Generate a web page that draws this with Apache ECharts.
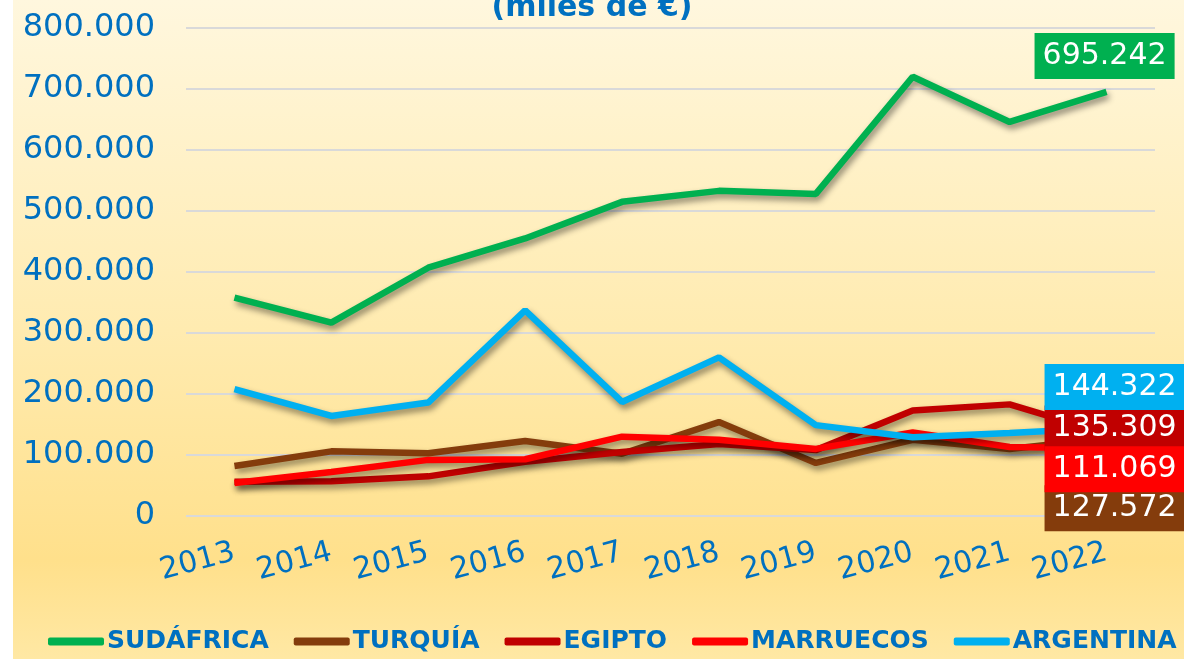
<!DOCTYPE html>
<html>
<head>
<meta charset="utf-8">
<script src="https://cdn.jsdelivr.net/npm/echarts@6/dist/echarts.min.js"></script>
<style>
  html, body { margin: 0; padding: 0; background: #fff; }
  #chart { width: 1184px; height: 659px; }
</style>
</head>
<body>
<div id="chart"></div>
<script>
// datos (miles de €)
const years = ['2013', '2014', '2015', '2016', '2017', '2018', '2019', '2020', '2021', '2022'];
const sudafrica = [358000, 317000, 407000, 455000, 515000, 533000, 528000, 720000, 646000, 695242];
const turquia   = [82000, 106000, 103000, 123000, 102000, 154000, 87000, 125000, 110000, 127572];
const egipto    = [56000, 57000, 65000, 89000, 105000, 118000, 108000, 173000, 183000, 135309];
const marruecos = [54000, 72000, 92000, 93000, 130000, 125000, 110000, 137000, 113000, 111069];
const argentina = [208000, 164000, 186000, 337000, 187000, 260000, 149000, 129000, 136000, 144322];
const yTicks = [0, 100000, 200000, 300000, 400000, 500000, 600000, 700000, 800000];

const blue = '#0070C0';
const font = 'DejaVu Sans';

function fmt(v) {
  return String(v).replace(/\B(?=(\d{3})+(?!\d))/g, '.');
}

function makeSeries(name, values, color, offset) {
  return {
    name: name,
    type: 'line',
    data: values,
    symbol: 'none',
    lineStyle: {
      color: color,
      width: 6.5,
      shadowColor: 'rgba(0,0,0,0.45)',
      shadowBlur: 6,
      shadowOffsetX: 2,
      shadowOffsetY: 4
    },
    itemStyle: { color: color },
    // etiqueta del último valor
    endLabel: {
      show: true,
      distance: 0,
      offset: offset,
      formatter: p => fmt(p.value),
      color: '#fff',
      fontFamily: font,
      fontSize: 30,
      lineHeight: 34,
      backgroundColor: color,
      padding: [6, 8]
    },
    emphasis: { disabled: true }
  };
}

const chart = echarts.init(document.getElementById('chart'));
chart.setOption({
  animation: false,
  graphic: [{
    type: 'rect',
    z: -10,
    shape: { x: 13, y: 0, width: 1171, height: 659 },
    style: {
      fill: new echarts.graphic.LinearGradient(0, 0, 0, 1, [
        { offset: 0, color: '#FFF7DE' },
        { offset: 0.5, color: '#FFEBB0' },
        { offset: 0.85, color: '#FFE08B' },
        { offset: 1, color: '#FFE8A4' }
      ])
    }
  }],
  title: {
    text: '(miles de €)',
    left: 'center',
    top: -12,
    textStyle: { color: blue, fontFamily: font, fontSize: 30, fontWeight: 'bold' }
  },
  legend: {
    bottom: 0,
    left: 48,
    width: 1136,
    padding: [5, 0],
    icon: 'roundRect',
    itemWidth: 56,
    itemHeight: 8,
    itemGap: 25,
    textStyle: { color: blue, fontFamily: font, fontSize: 25, fontWeight: 'bold', padding: [0, 0, 0, -2] },
    data: ['SUDÁFRICA', 'TURQUÍA', 'EGIPTO', 'MARRUECOS', 'ARGENTINA']
  },
  grid: { left: 186, right: 29, top: 28, bottom: 143 },
  xAxis: {
    type: 'category',
    data: years,
    boundaryGap: true,
    axisLine: { show: false },
    axisTick: { show: false },
    axisLabel: { color: blue, fontFamily: font, fontSize: 30, rotate: 15, margin: 36, interval: 0, hideOverlap: false }
  },
  yAxis: {
    type: 'value',
    min: yTicks[0],
    max: yTicks[yTicks.length - 1],
    interval: yTicks[1] - yTicks[0],
    axisLine: { show: false },
    axisTick: { show: false },
    splitLine: { lineStyle: { color: '#D9D9D9', width: 2 } },
    axisLabel: { color: blue, fontFamily: font, fontSize: 32, margin: 31, formatter: v => fmt(v) }
  },
  series: [
    makeSeries('SUDÁFRICA', sudafrica, '#00B050', [-72, -36]),
    makeSeries('TURQUÍA', turquia, '#843C0C', [-62, 70]),
    makeSeries('EGIPTO', egipto, '#C00000', [-62, -5]),
    makeSeries('MARRUECOS', marruecos, '#FF0000', [-62, 21]),
    makeSeries('ARGENTINA', argentina, '#00B0F0', [-62, -41])
  ]
});
</script>
</body>
</html>
